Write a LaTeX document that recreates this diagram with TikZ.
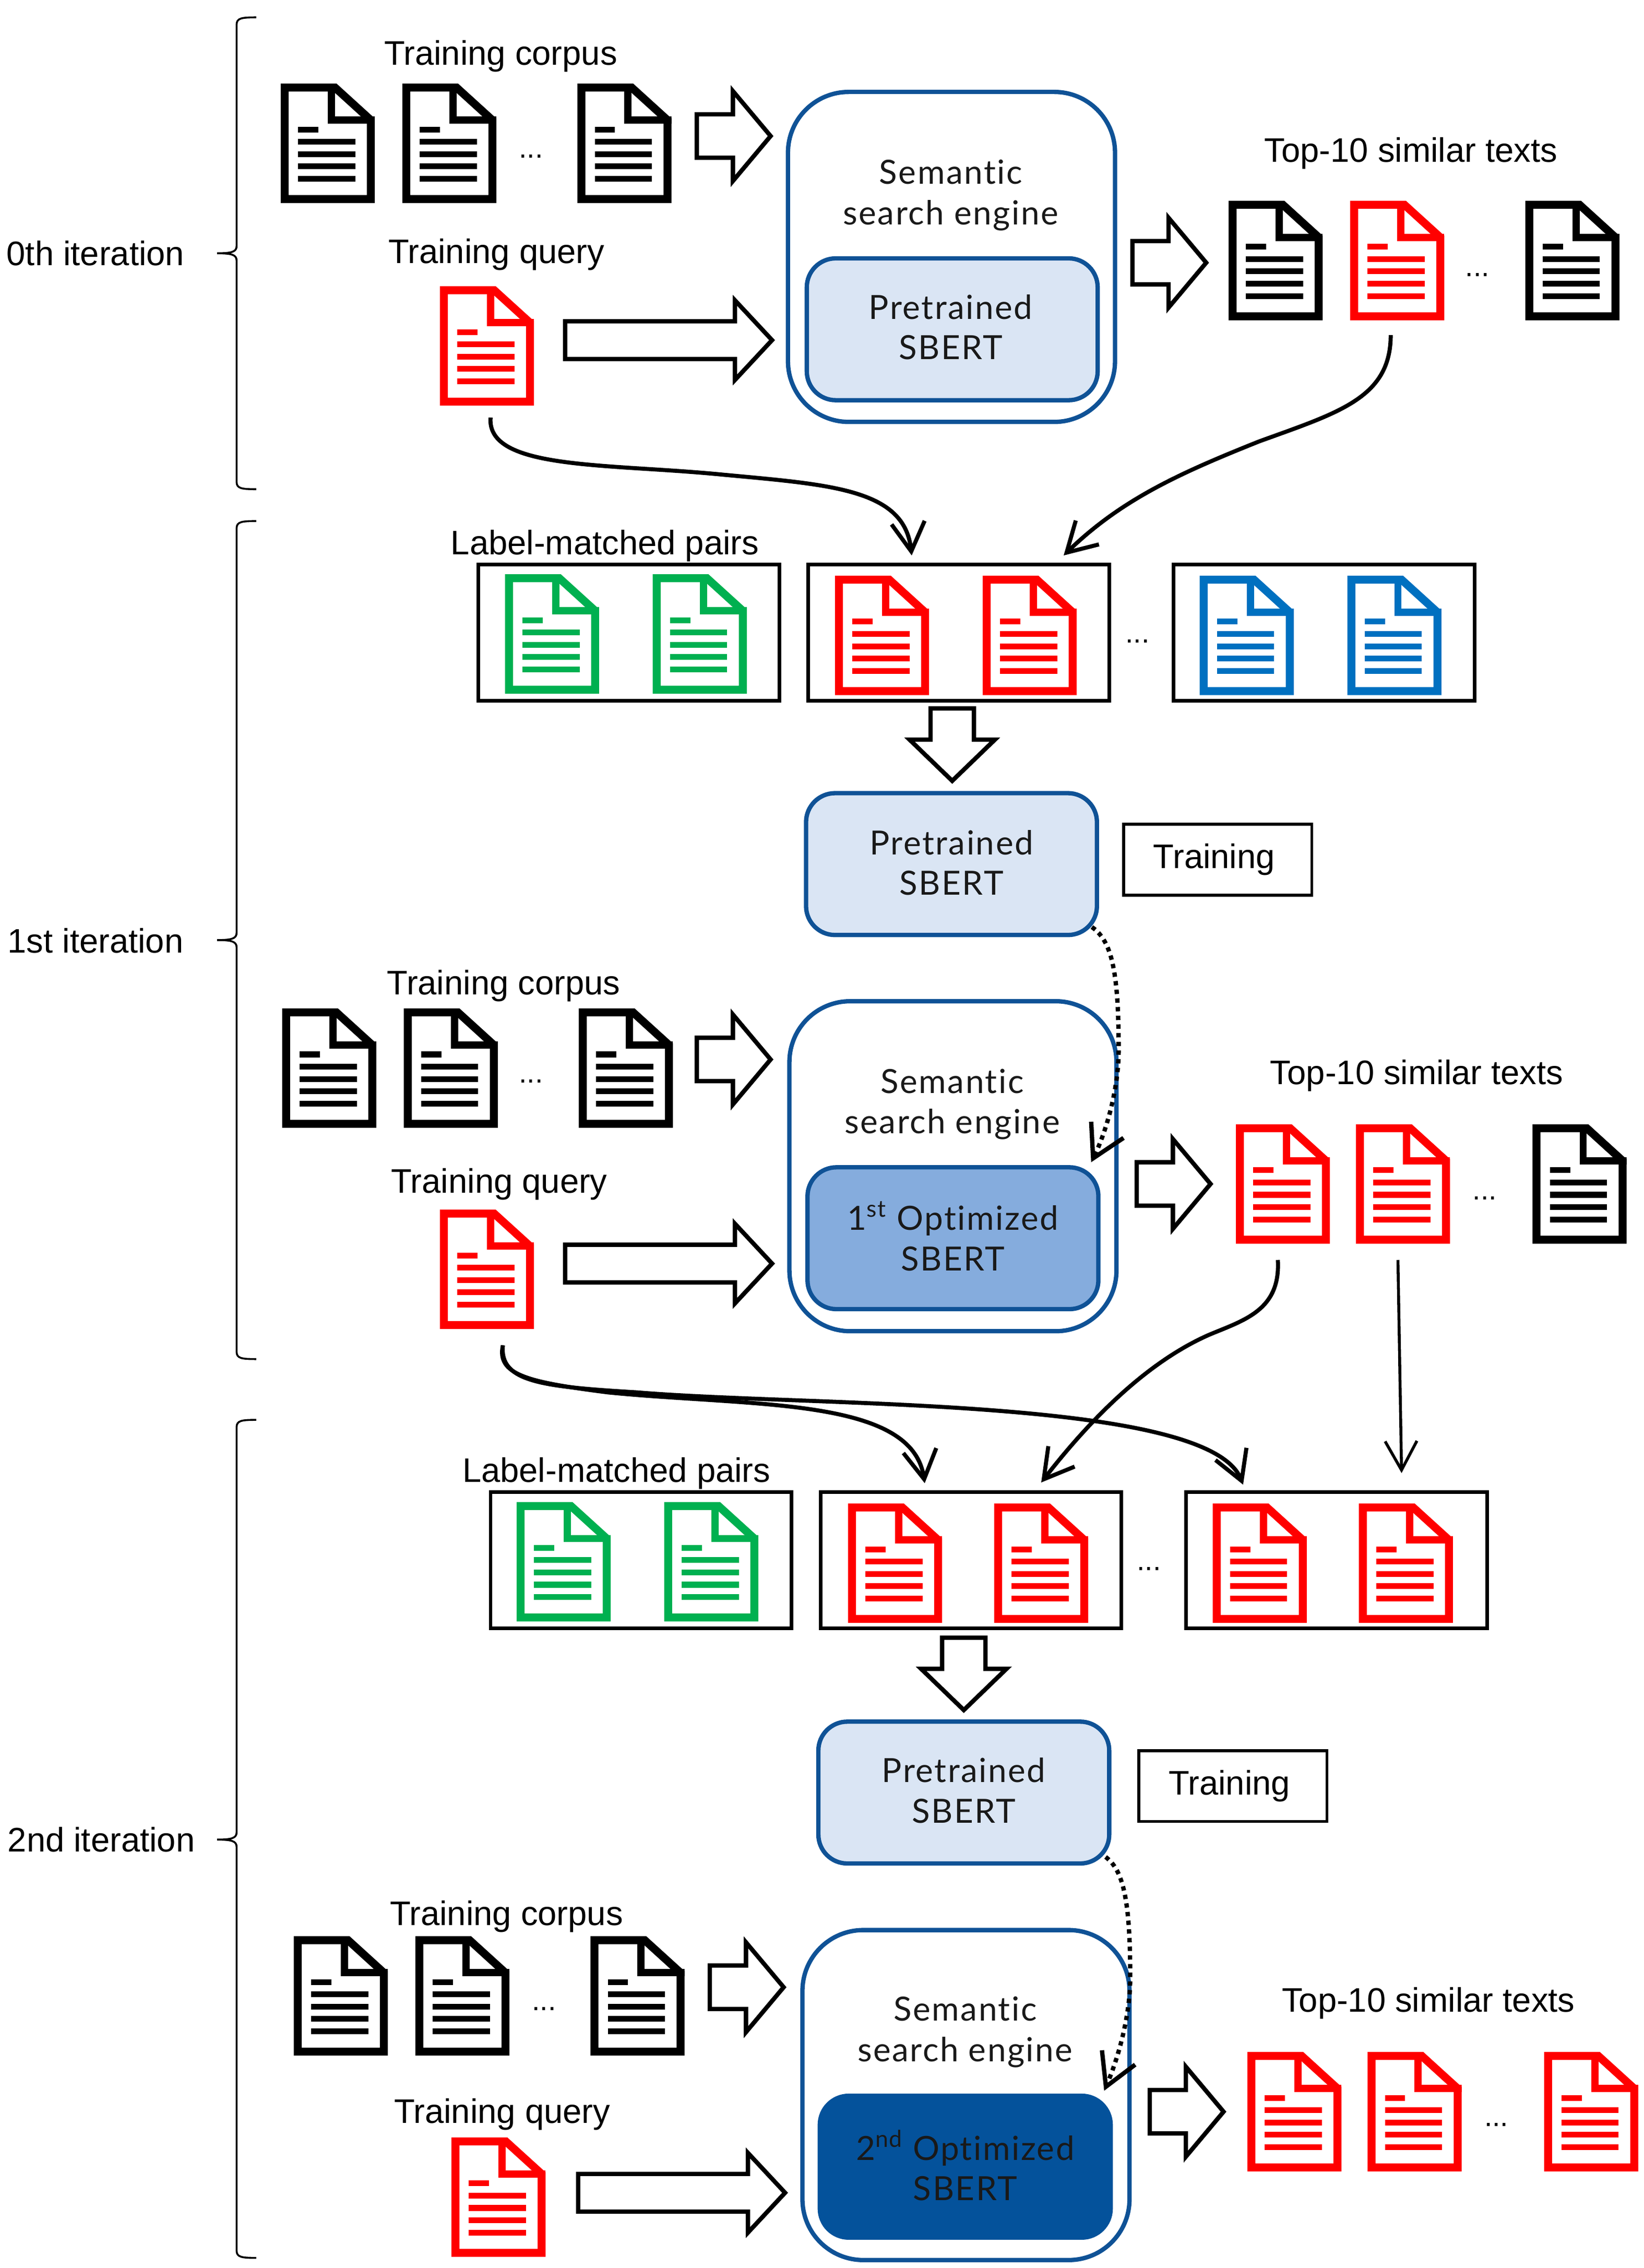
\documentclass[tikz,border=0pt]{standalone}
\usepackage{fontspec}
\setmainfont{Liberation Sans}
\newfontfamily\boxfont[LetterSpace=4,Ligatures={NoCommon,NoRare,NoContextual}]{Lato}
\usetikzlibrary{arrows.meta,shapes.arrows}
\definecolor{sbertblue}{HTML}{0F5296}
\definecolor{sbertlight}{HTML}{DAE5F4}
\definecolor{sbertmid}{HTML}{85ACDD}
\definecolor{sbertdark}{HTML}{04529B}
\definecolor{docgreen}{HTML}{00B050}
\definecolor{docblue}{HTML}{0070C0}
\begin{document}
\begin{tikzpicture}[x=1pt,y=-1pt]
		\tikzstyle{Label} = [font=\fontsize{23.5}{28}\selectfont, inner sep=0pt]
		\tikzstyle{Dots} = [font=\fontsize{20}{24}\selectfont, inner sep=0pt]
		\tikzstyle{BoxText} = [font=\boxfont\fontsize{23}{28}\selectfont, align=center, inner sep=0pt, text=black!90]
		\tikzstyle{Engine} = [rectangle, rounded corners=42pt, draw=sbertblue, line width=3pt, minimum width=226pt, minimum height=228pt, fill=white]
		\tikzstyle{Model} = [rectangle, rounded corners=20pt, draw=sbertblue, line width=3pt, minimum width=201pt, minimum height=98pt]
		\tikzstyle{Pair} = [rectangle, draw=black, line width=2.5pt, minimum width=208pt, minimum height=94pt]
		\tikzstyle{Stage} = [rectangle, draw=black, line width=2pt, minimum width=130pt, minimum height=49pt, font=\fontsize{23.5}{28}\selectfont]
		\tikzstyle{BlockArrow} = [single arrow, anchor=tail, draw=black, line width=3pt, fill=white, inner sep=0pt, outer sep=0pt, single arrow head indent=0pt, text width=0pt, text depth=0pt]
		\tikzstyle{ShortArrow} = [BlockArrow, minimum height=51pt, minimum width=59pt, text height=27pt, single arrow head extend=16pt, single arrow tip angle=100]
		\tikzstyle{DownArrow} = [BlockArrow, rotate=-90, minimum height=50pt, minimum width=56pt, text height=27pt, single arrow head extend=14.5pt, single arrow tip angle=92]
		\tikzstyle{LongArrow} = [BlockArrow, minimum height=143pt, minimum width=52pt, text height=23pt, single arrow head extend=14.5pt, single arrow tip angle=94]
		\tikzstyle{arrow} = [line width=2.8pt, -{Straight Barb[length=20pt,width=23pt]}]
		\tikzstyle{thinarrow} = [line width=2pt, -{Straight Barb[length=20pt,width=22pt]}]
		\tikzstyle{dotarrow} = [line width=3pt, dash pattern=on 3pt off 3pt, -{Straight Barb[length=22pt,width=25pt]}]
		\tikzstyle{BraceLine} = [line width=1.3pt]
		\tikzstyle{Doc}[black] = [rectangle, anchor=north west, xshift=-1pt, yshift=0.5pt, inner sep=0pt, outer sep=0pt, minimum width=65pt, minimum height=83pt, path picture={
			\draw[#1, line width=5.5pt, miter limit=10] (-29.75,-38.5) -- (5,-38.5) -- (29.75,-16) -- (29.75,38.5) -- (-29.75,38.5) -- cycle;
			\draw[#1, line width=5pt] (2.5,-38.5) -- (2.5,-16) -- (32.5,-16);
			\fill[#1] (-20.5,-11.5) rectangle (-6.5,-7.5);
			\fill[#1] (-20.5,-3.1) rectangle (19,0.9);
			\fill[#1] (-20.5,5.5) rectangle (19,9.5);
			\fill[#1] (-20.5,13.9) rectangle (19,17.9);
			\fill[#1] (-20.5,22.5) rectangle (19,26.5);}]

		\useasboundingbox (0,0) rectangle (1136,1567);

		% side braces
		\foreach \ytop/\ymid/\ybot in {12/175/338, 360/649.5/939, 981/1271/1560}
			\draw[BraceLine] (177,\ytop) .. controls (167,\ytop) and (163.5,\ytop+0.5) .. (163.5,\ytop+5) -- (163.5,\ymid-5) .. controls (163.5,\ymid-1) and (160,\ymid) .. (150,\ymid) .. controls (160,\ymid) and (163.5,\ymid+1) .. (163.5,\ymid+5) -- (163.5,\ybot-5) .. controls (163.5,\ybot-0.5) and (167,\ybot) .. (177,\ybot);
		\node (iter0) [Label] at (66,175) {0th iteration};
		\node (iter1) [Label] at (66,650) {1st iteration};
		\node (iter2) [Label] at (70,1271) {2nd iteration};

		% 0th iteration
		\node (corpus0) [Label] at (346,39) {Training corpus};
		\node (c0a) [Doc] at (195,58) {};
		\node (c0b) [Doc] at (279,58) {};
		\node (c0dots) [Dots] at (367,108) {...};
		\node (c0c) [Doc] at (400,58) {};
		\node (query0) [Label] at (343,176) {Training query};
		\node (q0) [Doc=red] at (305,198) {};
		\node (in0a) [ShortArrow] at (481.5,94) {};
		\node (in0b) [LongArrow] at (390.5,235) {};
		\node (eng0) [Engine] at (657.5,177.5) {};
		\node (sem0) [BoxText] at (657,135) {Semantic\\search engine};
		\node (pre0) [Model, fill=sbertlight] at (658,227.5) {};
		\node (ptxt0) [BoxText] at (657,226) {Pretrained\\SBERT};
		\node (out0) [ShortArrow] at (782.5,181.5) {};
		\node (top0) [Label] at (975,106) {Top-10 similar texts};
		\node (t0a) [Doc] at (850,139) {};
		\node (t0b) [Doc=red] at (934,139) {};
		\node (t0dots) [Dots] at (1021,190) {...};
		\node (t0c) [Doc] at (1055,139) {};

		% 1st iteration
		\node (match1) [Label] at (418,377) {Label-matched pairs};
		\node (pl1) [Pair] at (434.5,437) {};
		\node (pm1) [Pair] at (662.5,437) {};
		\node (pdots1) [Dots] at (786,443) {...};
		\node (pr1) [Pair] at (915,437) {};
		\node (g1a) [Doc=docgreen] at (350,397) {};
		\node (g1b) [Doc=docgreen] at (452,397) {};
		\node (r1a) [Doc=red] at (578,398) {};
		\node (r1b) [Doc=red] at (680,398) {};
		\node (b1a) [Doc=docblue] at (830,398) {};
		\node (b1b) [Doc=docblue] at (932,398) {};
		\node (down1) [DownArrow] at (658,489.5) {};
		\node (pre1) [Model, fill=sbertlight] at (657.5,597) {};
		\node (ptxt1) [BoxText] at (657.5,596) {Pretrained\\SBERT};
		\node (train1) [Stage] at (841.5,594) {\hspace*{-5pt}Training};
		\node (corpus1) [Label] at (348,681) {Training corpus};
		\node (c1a) [Doc] at (196,697) {};
		\node (c1b) [Doc] at (280,697) {};
		\node (c1dots) [Dots] at (367,747) {...};
		\node (c1c) [Doc] at (401,697) {};
		\node (query1) [Label] at (345,818) {Training query};
		\node (q1) [Doc=red] at (305,836) {};
		\node (in1a) [ShortArrow] at (481.5,732) {};
		\node (in1b) [LongArrow] at (390.5,873) {};
		\node (eng1) [Engine] at (658.5,805.75) {};
		\node (sem1) [BoxText] at (658,763) {Semantic\\search engine};
		\node (opt1) [Model, fill=sbertmid] at (658.5,855.5) {};
		\node (otxt1) [BoxText] at (658.5,854) {1\textsuperscript{st} Optimized\\SBERT};
		\node (out1) [ShortArrow] at (785.5,818) {};
		\node (top1) [Label] at (979,743) {Top-10 similar texts};
		\node (t1a) [Doc=red] at (855,777) {};
		\node (t1b) [Doc=red] at (938,777) {};
		\node (t1dots) [Dots] at (1026,828) {...};
		\node (t1c) [Doc] at (1060,777) {};

		% 2nd iteration
		\node (match2) [Label] at (426,1018) {Label-matched pairs};
		\node (pl2) [Pair] at (443,1078) {};
		\node (pm2) [Pair] at (671,1078) {};
		\node (pdots2) [Dots] at (794,1084) {...};
		\node (pr2) [Pair] at (923.5,1078) {};
		\node (g2a) [Doc=docgreen] at (358,1038) {};
		\node (g2b) [Doc=docgreen] at (460,1038) {};
		\node (r2a) [Doc=red] at (587,1039) {};
		\node (r2b) [Doc=red] at (688,1039) {};
		\node (r2c) [Doc=red] at (839,1039) {};
		\node (r2d) [Doc=red] at (940,1039) {};
		\node (down2) [DownArrow] at (666,1131.5) {};
		\node (pre2) [Model, fill=sbertlight] at (666,1238.5) {};
		\node (ptxt2) [BoxText] at (666,1237) {Pretrained\\SBERT};
		\node (train2) [Stage] at (852,1234) {\hspace*{-5pt}Training};
		\node (corpus2) [Label] at (350,1324) {Training corpus};
		\node (c2a) [Doc] at (204,1338) {};
		\node (c2b) [Doc] at (288,1338) {};
		\node (c2dots) [Dots] at (376,1388) {...};
		\node (c2c) [Doc] at (409,1338) {};
		\node (query2) [Label] at (347,1461) {Training query};
		\node (q2) [Doc=red] at (313,1477) {};
		\node (in2a) [ShortArrow] at (490.5,1373) {};
		\node (in2b) [LongArrow] at (399.5,1515) {};
		\node (eng2) [Engine] at (667.5,1447.5) {};
		\node (sem2) [BoxText] at (667,1404) {Semantic\\search engine};
		\node (opt2) [Model, draw=sbertdark, fill=sbertdark] at (667,1497) {};
		\node (otxt2) [BoxText] at (667,1496) {2\textsuperscript{nd} Optimized\\SBERT};
		\node (out2) [ShortArrow] at (794.5,1459) {};
		\node (top2) [Label] at (987,1384) {Top-10 similar texts};
		\node (t2a) [Doc=red] at (863,1418) {};
		\node (t2b) [Doc=red] at (946,1418) {};
		\node (t2dots) [Dots] at (1034,1468) {...};
		\node (t2c) [Doc=red] at (1068,1418) {};

		% curved links
		\draw [arrow] ([xshift=2.5pt,yshift=-8pt]q0.south) .. controls (336,325) and (420,320) .. (500,328) .. controls (575,335) and (625,338) .. ([xshift=-32.5pt,yshift=5pt]pm1.north);
		\draw [arrow] ([xshift=-4.5pt,yshift=-10pt]t0b.south) .. controls (961,275) and (925,285) .. (870,305) .. controls (815,327) and (775,345) .. ([xshift=72.5pt,yshift=5pt]pm1.north);
		\draw [arrow] ([xshift=11pt,yshift=-11pt]q1.south) .. controls (343,950) and (365,955) .. (420,962) .. controls (520,972) and (630,965) .. ([xshift=-32pt,yshift=5pt]pm2.north);
		\draw [arrow] ([xshift=11pt,yshift=-11pt]q1.south) .. controls (345,955) and (375,958) .. (440,962) .. controls (560,972) and (835,965) .. ([xshift=-64.5pt,yshift=4pt]pr2.north);
		\draw [arrow] ([xshift=-3.5pt,yshift=-11pt]t1a.south) .. controls (885,905) and (860,912) .. (836,922) .. controls (790,942) and (750,985) .. ([xshift=48.5pt,yshift=5.5pt]pm2.north);
		\draw [thinarrow] ([xshift=-3.5pt,yshift=-11pt]t1b.south) -- ([xshift=45pt,yshift=12pt]pr2.north);
		\draw [dotarrow] ([xshift=-5pt,yshift=7pt]pre1.south east) .. controls (768,650) and (773,670) .. (773,725) .. controls (773,755) and (763,785) .. ([xshift=-6.5pt,yshift=2pt]opt1.north east);
		\draw [dotarrow] ([xshift=-4pt,yshift=6pt]pre2.south east) .. controls (776,1292) and (781,1312) .. (781,1366) .. controls (781,1396) and (771,1426) .. ([xshift=-6pt,yshift=2pt]opt2.north east);
\end{tikzpicture}
\end{document}
